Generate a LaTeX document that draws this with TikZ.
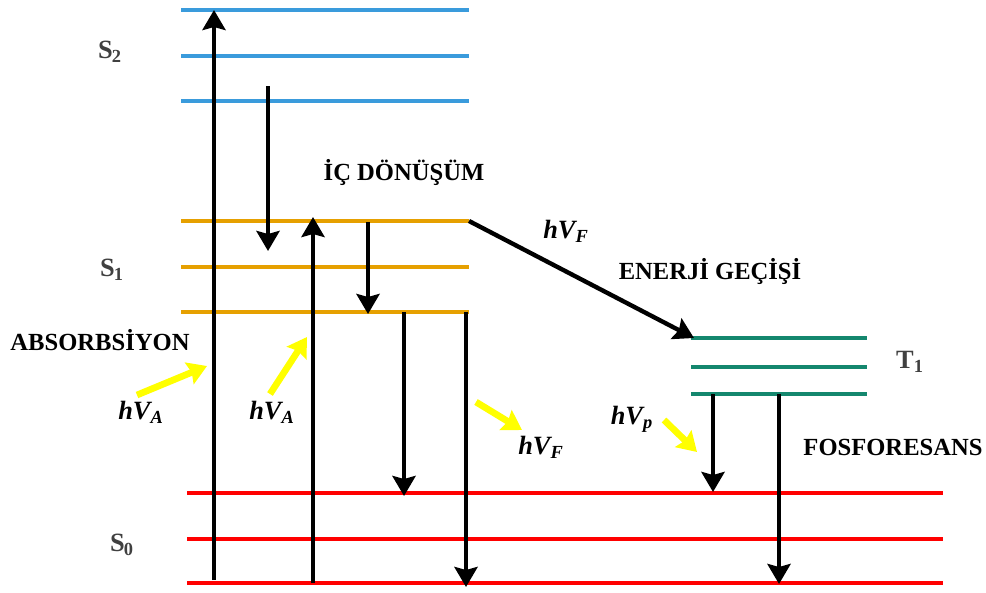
\documentclass[tikz,border=0pt]{standalone}
\usepackage{fontspec}
\setmainfont{Liberation Serif}
\usetikzlibrary{arrows.meta}
\definecolor{sblue}{RGB}{58,155,220}
\definecolor{sorange}{RGB}{230,160,0}
\definecolor{tgreen}{RGB}{20,135,110}
\definecolor{sred}{RGB}{255,0,0}
\definecolor{hvyellow}{RGB}{255,255,0}
\begin{document}
\begin{tikzpicture}[
  x=0.02cm, y=-0.02cm,
  level/.style={line width=2.6pt},
  trans/.style={line width=2.5pt, -{Stealth[length=0.4cm, width=0.46cm, inset=0.06cm]}},
  photon/.style={hvyellow, line width=3.8pt, -{Stealth[length=0.38cm, width=0.46cm, inset=0.05cm]}},
  lbl/.style={font=\bfseries\fontsize{14}{16}\selectfont},
  state/.style={font=\bfseries\fontsize{15}{15}\selectfont, text=black!75, inner sep=1pt},
  hv/.style={font=\bfseries\itshape\fontsize{15}{15}\selectfont}
]
  \useasboundingbox (0,0) rectangle (986,592);

  % energy levels
  \foreach \y in {10,56,101} \draw[level, sblue] (181,\y) -- (469,\y);
  \foreach \y in {221,267,312} \draw[level, sorange] (181,\y) -- (469,\y);
  \foreach \y in {338,367,394} \draw[level, tgreen] (691,\y) -- (867,\y);
  \foreach \y in {493,539,583} \draw[level, sred] (187,\y) -- (943,\y);

  \node[state] (s2) at (110,52) {S\kern-0.5pt\textsubscript{2}};
  \node[state] (s1) at (112,270) {S\kern-0.5pt\textsubscript{1}};
  \node[state] (s0) at (122,545) {S\kern-0.5pt\textsubscript{0}};
  \node[state] (t1) at (910,362) {T\textsubscript{1}};

  % end points of the transitions
  \coordinate (abs1) at (214,580);  \coordinate (s2top) at (214,10);
  \coordinate (abs2) at (313,583);  \coordinate (s1top) at (313,217);
  \coordinate (ic1)  at (268,86);   \coordinate (ic1e)  at (268,251);
  \coordinate (ic2)  at (368,222);  \coordinate (ic2e)  at (368,314);
  \coordinate (fl1)  at (404,312);  \coordinate (fl1e)  at (404,496);
  \coordinate (fl2)  at (466,312);  \coordinate (fl2e)  at (466,587);
  \coordinate (isc)  at (469,221);  \coordinate (isce)  at (694,338);
  \coordinate (ph1)  at (713,394);  \coordinate (ph1e)  at (713,492);
  \coordinate (ph2)  at (779,394);  \coordinate (ph2e)  at (779,584);

  \draw[trans] (abs1) -- (s2top);
  \draw[trans] (abs2) -- (s1top);
  \draw[trans] (ic1) -- (ic1e);
  \draw[trans] (ic2) -- (ic2e);
  \draw[trans] (fl1) -- (fl1e);
  \draw[trans] (fl2) -- (fl2e);
  \draw[trans] (isc) -- (isce);
  \draw[trans] (ph1) -- (ph1e);
  \draw[trans] (ph2) -- (ph2e);

  % photons
  \coordinate (y1) at (137,395); \coordinate (y1e) at (207,366);
  \coordinate (y2) at (270,394); \coordinate (y2e) at (307,337);
  \coordinate (y3) at (476,402); \coordinate (y3e) at (522,430);
  \coordinate (y4) at (664,420); \coordinate (y4e) at (697,452);
  \draw[photon] (y1) -- (y1e);
  \draw[photon] (y2) -- (y2e);
  \draw[photon] (y3) -- (y3e);
  \draw[photon] (y4) -- (y4e);

  \node[hv] (hva1) at (141,412) {hV\textsubscript{A}};
  \node[hv] (hva2) at (272,412) {hV\textsubscript{A}};
  \node[hv] (hvf1) at (541,447) {hV\textsubscript{F}};
  \node[hv] (hvf2) at (566,231) {hV\textsubscript{F}};
  \node[hv] (hvp)  at (632,419) {hV\textsubscript{p}};

  \node[lbl] (abs) at (100,340) {ABSORBSİYON};
  \node[lbl] (ic)  at (404,172) {İÇ DÖNÜŞÜM};
  \node[lbl] (eg)  at (710,271) {ENERJİ GEÇİŞİ};
  \node[lbl] (fos) at (893,447) {FOSFORESANS};
\end{tikzpicture}
\end{document}
